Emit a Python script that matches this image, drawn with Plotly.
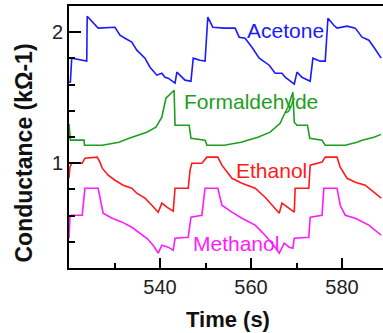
import plotly.graph_objects as go

# Sensor conductance traces (time in s, conductance in kOhm^-1)
acetone_t = [520.0, 520.3, 520.6, 523.9, 524.0, 526.4, 530.1, 531.2, 532.3, 533.8,
             534.9, 536.7, 537.8, 539.3, 540.4, 541.1, 541.8, 543.3, 543.7, 544.8,
             545.5, 546.8, 547.3, 548.8, 549.9, 550.5, 551.6, 554.1, 556.5, 557.4,
             558.7, 560.2, 561.8, 564.0, 565.3, 566.8, 567.5, 569.5, 570.1, 571.2,
             573.0, 573.6, 575.2, 576.3, 576.9, 578.2, 578.9, 581.1, 582.9, 584.4,
             585.9, 587.0, 588.6]
acetone_g = [1.618, 1.620, 1.802, 1.779, 2.122, 2.031, 2.038, 1.977, 1.954, 1.924,
             1.863, 1.802, 1.733, 1.672, 1.687, 1.656, 1.649, 1.611, 1.695, 1.656,
             1.634, 1.626, 1.802, 1.786, 1.779, 2.115, 2.038, 2.031, 2.031, 1.962,
             1.954, 1.885, 1.802, 1.748, 1.687, 1.687, 1.656, 1.603, 1.695, 1.656,
             1.626, 1.802, 1.779, 1.779, 2.107, 2.053, 2.031, 2.046, 2.031, 1.962,
             1.939, 1.885, 1.802]

formaldehyde_t = [520.0, 520.3, 523.3, 523.4, 527.3, 531.0, 533.2, 535.4, 537.1, 539.1,
                  540.4, 541.3, 543.1, 543.3, 546.4, 546.8, 549.9, 550.3, 554.1, 557.8,
                  561.5, 564.2, 566.4, 567.0, 568.1, 569.2, 569.5, 570.1, 572.4, 572.9,
                  575.6, 576.3, 580.7, 583.3, 584.4, 587.0, 588.6]
formaldehyde_g = [1.300, 1.176, 1.176, 1.137, 1.137, 1.160, 1.191, 1.214, 1.237, 1.275,
                  1.351, 1.496, 1.557, 1.290, 1.290, 1.191, 1.176, 1.137, 1.137, 1.160,
                  1.198, 1.237, 1.305, 1.351, 1.427, 1.542, 1.313, 1.290, 1.290, 1.191,
                  1.176, 1.137, 1.137, 1.160, 1.176, 1.198, 1.220]

ethanol_t = [520.0, 520.2, 520.6, 522.9, 523.5, 526.2, 526.8, 527.3, 528.6, 530.1,
             531.9, 533.8, 534.9, 536.7, 538.2, 539.6, 540.4, 541.5, 542.9, 543.3,
             546.2, 546.6, 547.0, 549.2, 550.3, 552.7, 553.6, 555.8, 558.0, 560.9,
             563.1, 564.6, 566.2, 566.8, 567.9, 569.5, 569.7, 572.7, 573.0, 575.6,
             576.3, 578.9, 579.6, 581.1, 582.9, 585.1, 588.6]
ethanol_g = [0.885, 0.969, 1.000, 1.000, 1.038, 1.046, 1.008, 0.962, 0.908, 0.870,
             0.832, 0.809, 0.771, 0.733, 0.679, 0.626, 0.695, 0.664, 0.634, 0.809,
             0.809, 0.947, 1.000, 1.000, 1.046, 1.046, 0.985, 0.885, 0.847, 0.809,
             0.740, 0.679, 0.618, 0.695, 0.664, 0.626, 0.809, 0.809, 0.985, 1.008,
             1.046, 1.046, 0.969, 0.885, 0.855, 0.832, 0.733]

methanol_t = [520.0, 520.2, 520.6, 522.9, 523.5, 526.4, 526.8, 527.5, 529.5, 531.7,
              533.8, 535.2, 537.1, 538.5, 539.6, 540.4, 541.8, 542.9, 543.3, 546.2,
              546.8, 549.2, 549.9, 552.7, 553.6, 555.8, 558.0, 560.9, 563.1, 565.3,
              566.2, 567.3, 568.4, 569.2, 569.5, 572.7, 573.0, 575.6, 576.0, 578.9,
              579.6, 580.7, 582.9, 585.9, 588.6]
methanol_g = [0.427, 0.588, 0.603, 0.603, 0.809, 0.809, 0.740, 0.618, 0.580, 0.550,
              0.511, 0.473, 0.427, 0.374, 0.313, 0.374, 0.359, 0.336, 0.427, 0.435,
              0.588, 0.603, 0.809, 0.809, 0.679, 0.626, 0.580, 0.527, 0.450, 0.359,
              0.313, 0.389, 0.359, 0.351, 0.427, 0.435, 0.588, 0.603, 0.809, 0.809,
              0.679, 0.603, 0.580, 0.527, 0.450]

# name, times, values, colour, label position (t, g)
series = [
    ("Acetone", acetone_t, acetone_g, "#1a1aff", (567.5, 2.015)),
    ("Formaldehyde", formaldehyde_t, formaldehyde_g, "#1e9e1e", (560.0, 1.473)),
    ("Ethanol", ethanol_t, ethanol_g, "#ff1a1a", (564.6, 0.947)),
    ("Methanol", methanol_t, methanol_g, "#ff1aff", (556.7, 0.389)),
]

FONT = "Liberation Sans, Arial, Helvetica, sans-serif"

fig = go.Figure()
annotations = []
for name, t, g, color, (lt, lg) in series:
    fig.add_trace(go.Scatter(x=t, y=g, mode="lines", name=name,
                             line=dict(color=color, width=1.6),
                             showlegend=False))
    annotations.append(dict(x=lt, y=lg, xref="x", yref="y", text=name,
                            showarrow=False,
                            font=dict(family=FONT, size=21, color=color)))

annotations.append(dict(x=0.506, y=-0.198, xref="paper", yref="paper",
                        text="<b>Time (s)</b>", showarrow=False,
                        xanchor="center", yanchor="middle",
                        font=dict(family=FONT, size=22, color="#111111")))
annotations.append(dict(x=-0.144, y=0.44, xref="paper", yref="paper",
                        text="<b>Conductance (kΩ-1)</b>", showarrow=False,
                        textangle=-90, xanchor="center", yanchor="middle",
                        font=dict(family=FONT, size=23, color="#111111")))

fig.update_layout(
    width=383, height=333,
    margin=dict(l=69, r=0, t=6, b=65),
    paper_bgcolor="white", plot_bgcolor="white",
    annotations=annotations,
    font=dict(family=FONT, size=20, color="#222222"),
)

fig.update_xaxes(
    range=[520, 589], showgrid=False, zeroline=False,
    showline=True, linecolor="black", linewidth=2, mirror=True,
    ticks="inside", ticklen=10, tickwidth=2, tickcolor="black",
    tickvals=[540, 560, 580],
    minor=dict(tickvals=[520, 530, 550, 570], ticks="inside",
               ticklen=5, tickwidth=2, tickcolor="black"),
    tickfont=dict(family=FONT, size=20, color="#222222"),
)
fig.update_yaxes(
    range=[0.2, 2.2], showgrid=False, zeroline=False,
    showline=True, linecolor="black", linewidth=2,
    ticks="inside", ticklen=12, tickwidth=2, tickcolor="black",
    tickvals=[1, 2],
    minor=dict(tickvals=[0.2, 0.4, 0.6, 0.8, 1.2, 1.4, 1.6, 1.8],
               ticks="inside", ticklen=6, tickwidth=2, tickcolor="black"),
    tickfont=dict(family=FONT, size=20, color="#222222"),
)

fig.write_html("out.html")
